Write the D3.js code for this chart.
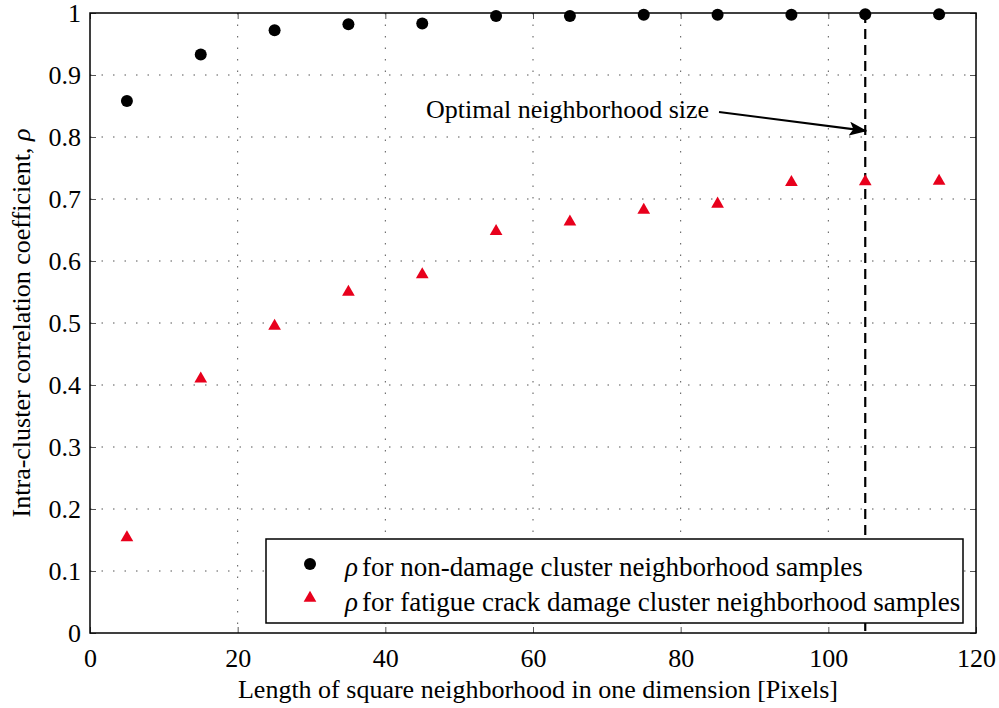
<!DOCTYPE html>
<html><head><meta charset="utf-8">
<script src="https://cdn.jsdelivr.net/npm/d3@7"></script>
<style>body{margin:0;background:#fff;} svg{display:block;} svg text, svg tspan{font-family:'Liberation Serif', serif !important;}</style>
</head><body>
<svg id="chart" width="999" height="708"></svg>
<script>
const xValues = [5, 15, 25, 35, 45, 55, 65, 75, 85, 95, 105, 115];
const nonDamage = [0.858, 0.933, 0.972, 0.982, 0.983, 0.995, 0.995, 0.997, 0.997, 0.997, 0.998, 0.998];
const fatigue = [0.154, 0.41, 0.495, 0.55, 0.578, 0.648, 0.663, 0.682, 0.692, 0.727, 0.728, 0.729];
const xTicks = [0, 20, 40, 60, 80, 100, 120];
const yTicks = [0, 0.1, 0.2, 0.3, 0.4, 0.5, 0.6, 0.7, 0.8, 0.9, 1];
const optimalX = 105;
const legendLabels = ["for non-damage cluster neighborhood samples", "for fatigue crack damage cluster neighborhood samples"];

const FONT = "Liberation Serif";
const svg = d3.select("#chart").attr("font-family", FONT);
const L = 90, R = 976, T = 13, B = 633;
const x = d3.scaleLinear().domain([0, 120]).range([L, R]);
const y = d3.scaleLinear().domain([0, 1]).range([B, T]);

// grid
const g = svg.append("g");
g.selectAll(".gx").data(xTicks.slice(1, -1)).join("line")
  .attr("x1", d => x(d)).attr("x2", d => x(d)).attr("y1", T).attr("y2", B)
  .attr("stroke", "#555").attr("stroke-width", 1).attr("stroke-dasharray", "1.5,10");
g.selectAll(".gy").data(yTicks.slice(1, -1)).join("line")
  .attr("x1", L).attr("x2", R).attr("y1", d => y(d)).attr("y2", d => y(d))
  .attr("stroke", "#555").attr("stroke-width", 1).attr("stroke-dasharray", "1.5,10");

// axes
const xa = svg.append("g").attr("transform", `translate(0,${B})`)
  .call(d3.axisBottom(x).tickValues(xTicks).tickSize(-6).tickPadding(14).tickFormat(d3.format("d")));
const xa2 = svg.append("g").attr("transform", `translate(0,${T})`)
  .call(d3.axisTop(x).tickValues(xTicks).tickSize(-6).tickFormat(""));
const ya = svg.append("g").attr("transform", `translate(${L},0)`)
  .call(d3.axisLeft(y).tickValues(yTicks).tickSize(-6).tickPadding(9).tickFormat(d => d === 0 || d === 1 ? d3.format("d")(d) : d3.format(".1f")(d)));
const ya2 = svg.append("g").attr("transform", `translate(${R},0)`)
  .call(d3.axisRight(y).tickValues(yTicks).tickSize(-6).tickFormat(""));
[xa, xa2, ya, ya2].forEach(a => {
  a.attr("font-family", FONT).attr("font-size", 26);
  a.select(".domain").remove();
  a.selectAll(".tick line").attr("stroke", "#555");
  a.selectAll("text").attr("fill", "#000").attr("font-family", FONT);
});
xa.selectAll("text").attr("dy", null).attr("y", 0).attr("transform", "translate(0,34)");
svg.append("rect").attr("x", L).attr("y", T).attr("width", R - L).attr("height", B - T)
  .attr("fill", "none").attr("stroke", "#000").attr("stroke-width", 1.5);

// dashed optimal line
svg.append("line").attr("x1", x(optimalX)).attr("x2", x(optimalX)).attr("y1", T).attr("y2", B)
  .attr("stroke", "#000").attr("stroke-width", 2.2).attr("stroke-dasharray", "10,6");

// points
svg.append("g").selectAll("circle").data(xValues).join("circle")
  .attr("cx", (d) => x(d)).attr("cy", (d, i) => y(nonDamage[i])).attr("r", 6).attr("fill", "#000");
const tri = d3.symbol().type(d3.symbolTriangle).size(70);
svg.append("g").selectAll("path").data(xValues).join("path")
  .attr("d", tri).attr("transform", (d, i) => `translate(${x(d)},${y(fatigue[i])})`).attr("fill", "#e8001c");

// annotation
svg.append("defs").append("marker").attr("id", "ah").attr("viewBox", "0 0 18 14")
  .attr("refX", 17).attr("refY", 7).attr("markerWidth", 18).attr("markerHeight", 14)
  .attr("markerUnits", "userSpaceOnUse").attr("orient", "auto")
  .append("path").attr("d", "M0,0 L18,7 L0,14 L4,7 z").attr("fill", "#000");
svg.append("text").attr("x", 426).attr("y", 118).attr("font-family", FONT).attr("font-size", 26)
  .text("Optimal neighborhood size");
svg.append("line").attr("x1", 719).attr("y1", 112).attr("x2", x(optimalX) + 1).attr("y2", y(0.81))
  .attr("stroke", "#000").attr("stroke-width", 2.2).attr("marker-end", "url(#ah)");

// legend
const lg = svg.append("g");
lg.append("rect").attr("x", 266).attr("y", 539).attr("width", 697).attr("height", 84)
  .attr("fill", "#fff").attr("stroke", "#000").attr("stroke-width", 1.5);
lg.append("circle").attr("cx", 310).attr("cy", 564).attr("r", 6).attr("fill", "#000");
lg.append("path").attr("d", tri).attr("transform", "translate(310,598)").attr("fill", "#e8001c");
legendLabels.forEach((t, i) => {
  const tx = lg.append("text").attr("x", 345).attr("y", 576 + i * 35)
    .attr("font-family", FONT).attr("font-size", 27);
  tx.append("tspan").attr("font-style", "italic").attr("font-family", FONT).text("ρ");
  tx.append("tspan").attr("dx", 4).attr("font-family", FONT).text(t);
});

// axis titles
svg.append("text").attr("x", 538).attr("y", 698).attr("text-anchor", "middle")
  .attr("font-family", FONT).attr("font-size", 26)
  .text("Length of square neighborhood in one dimension [Pixels]");
const yl = svg.append("text").attr("transform", `translate(30,${(T + B) / 2}) rotate(-90)`)
  .attr("text-anchor", "middle").attr("font-family", FONT).attr("font-size", 26);
yl.append("tspan").attr("font-family", FONT).text("Intra-cluster correlation coefficient, ");
yl.append("tspan").attr("font-style", "italic").attr("font-family", FONT).text("ρ");
</script>
</body></html>
